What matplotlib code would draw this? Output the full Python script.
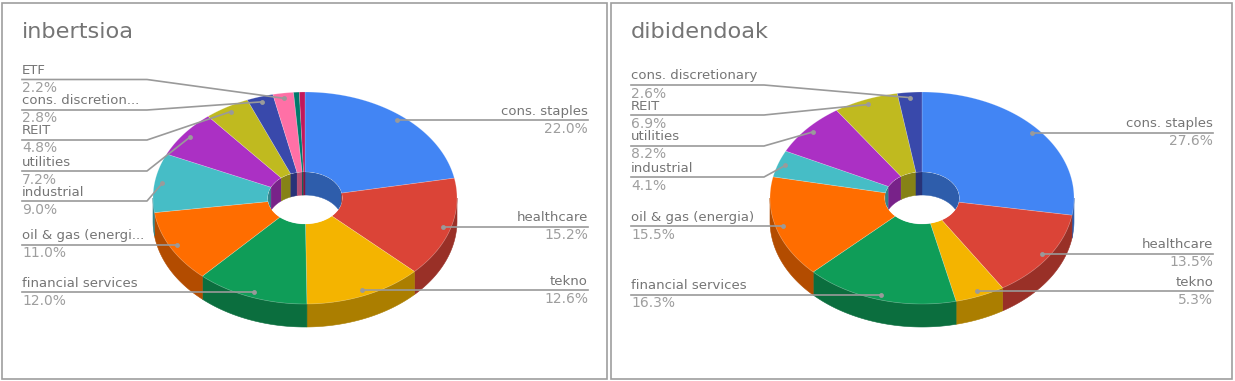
import numpy as np
import matplotlib
matplotlib.use('Agg')
import matplotlib.pyplot as plt
from matplotlib.patches import Ellipse, Rectangle

W, H = 1235, 381

# --- data ---
labels_inv = ['cons. staples', 'healthcare', 'tekno', 'financial services',
              'oil & gas (energi...', 'industrial', 'utilities', 'REIT',
              'cons. discretion...', 'ETF', '', '']
values_inv = [22.0, 15.2, 12.6, 12.0, 11.0, 9.0, 7.2, 4.8, 2.8, 2.2, 0.6, 0.6]

labels_div = ['cons. staples', 'healthcare', 'tekno', 'financial services',
              'oil & gas (energia)', 'industrial', 'utilities', 'REIT',
              'cons. discretionary']
values_div = [27.6, 13.5, 5.3, 16.3, 15.5, 4.1, 8.2, 6.9, 2.6]

colors = ['#4285F4', '#DB4437', '#F4B400', '#0F9D58', '#FF6D00', '#46BDC6',
          '#AB30C4', '#C0BA1F', '#3949AB', '#FF70A6', '#00796B', '#C2185B']

# y of the horizontal leader part, None = straight from the dot
stack_inv = [None, None, None, None, None, 201, 171, 140, 110, 79.5, None, None]
stack_div = [None, None, None, None, None, 177, 146, 115, 85]

RX, RY, CY, DEPTH = 152, 106, 198, 23
HOLE = 0.245
TXT, PCT, LINE = '#757575', '#9e9e9e', '#9a9a9a'


def dark(c, f=0.7):
    return tuple(v * f for v in matplotlib.colors.to_rgb(c))


def arc(cx, r, a0, a1, dy=0):
    a = np.radians(np.linspace(a0, a1, max(int(abs(a1 - a0)) * 2, 2)))
    return np.c_[cx + r * RX * np.sin(a), CY + dy - r * RY * np.cos(a)]


def donut(ax, box, cx, elbow, title, labels, values, stack):
    x0, x1 = box
    ax.add_patch(Rectangle((x0, 2.5), x1 - x0, 376.5, fc='white', ec='#9e9e9e', lw=1.2, zorder=0))
    ax.text(x0 + 20, 32, title, fontsize=16.2, color=TXT, va='center', ha='left')

    edges = np.r_[0, np.cumsum(values)] * 360 / sum(values)

    # outer wall, front half only
    for i, v in enumerate(values):
        a0, a1 = max(edges[i], 90), min(edges[i + 1], 270)
        if a1 > a0:
            top = arc(cx, 1, a0, a1)
            bot = arc(cx, 1, a1, a0, DEPTH)
            ax.fill(*np.r_[top, bot].T, color=dark(colors[i]), lw=0.4, zorder=1)

    # top face
    for i, v in enumerate(values):
        outer = arc(cx, 1, edges[i], edges[i + 1])
        inner = arc(cx, HOLE, edges[i + 1], edges[i])
        ax.fill(*np.r_[outer, inner].T, fc=colors[i], ec='#ffffff40', lw=0.5, zorder=2)

    # hole + inner wall, back half only
    hole = Ellipse((cx, CY), 2 * HOLE * RX, 2 * HOLE * RY, fc='white', ec='none', zorder=3)
    ax.add_patch(hole)
    for i, v in enumerate(values):
        e0, e1 = edges[i], edges[i + 1]
        spans = [(e0, min(e1, 90)), (max(e0, 270), e1)]
        for a0, a1 in spans:
            if a1 > a0:
                top = arc(cx, HOLE, a0, a1)
                bot = arc(cx, HOLE, a1, a0, DEPTH)
                p = ax.fill(*np.r_[top, bot].T, color=dark(colors[i]), lw=0.3, zorder=4)[0]
                p.set_clip_path(hole)

    # leaders and labels
    for i, (lab, v) in enumerate(zip(labels, values)):
        if not lab:
            continue
        mid = np.radians((edges[i] + edges[i + 1]) / 2)
        dx = cx + 0.95 * RX * np.sin(mid)
        dy = CY - 0.95 * RY * np.cos(mid)
        if np.sin(mid) > 0:
            tx, ha = x1 - 19, 'right'
            xs, ys = [dx, tx], [dy, dy]
            ly = dy
        else:
            tx, ha = x0 + 20, 'left'
            ly = stack[i] if stack[i] is not None else dy
            xs, ys = [tx, elbow, dx], [ly, ly, dy]
        ax.plot(xs, ys, color=LINE, lw=1.2, zorder=5)
        ax.plot(dx, dy, 'o', color=LINE, ms=3.5, mew=0, zorder=6)
        ax.text(tx, ly - 9, lab, fontsize=9.5, color=TXT, ha=ha, va='center', zorder=7)
        ax.text(tx, ly + 8.5, f'{v:.1f}%', fontsize=10, color=PCT, ha=ha, va='center', zorder=7)


fig = plt.figure(figsize=(W / 100, H / 100), dpi=100)
ax = fig.add_axes([0, 0, 1, 1])
ax.set_xlim(0, W)
ax.set_ylim(H, 0)
ax.axis('off')

donut(ax, (2, 607), 305, 147, 'inbertsioa', labels_inv, values_inv, stack_inv)
donut(ax, (611, 1232), 922, 764, 'dibidendoak', labels_div, values_div, stack_div)

fig.savefig('out.png', dpi=100)
